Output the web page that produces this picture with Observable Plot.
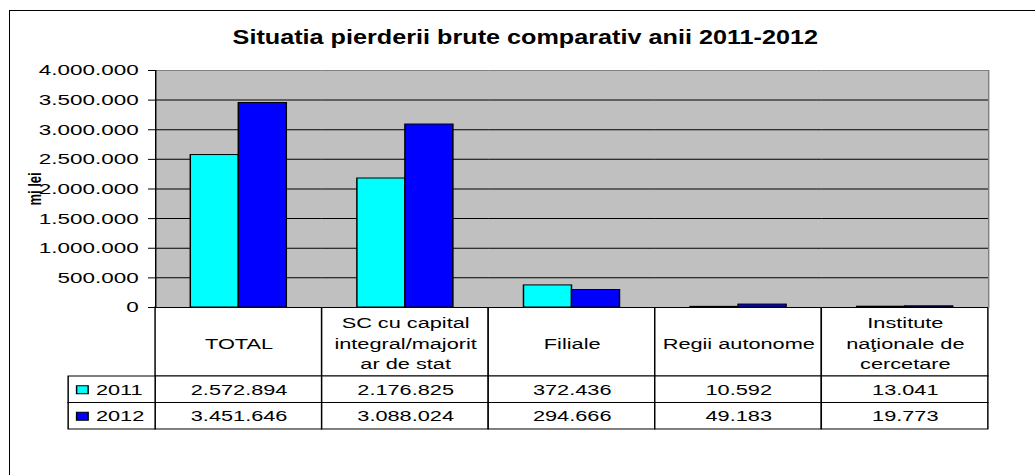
<!DOCTYPE html>
<html><head><meta charset="utf-8">
<script src="https://cdn.jsdelivr.net/npm/d3@7"></script>
<script src="https://cdn.jsdelivr.net/npm/@observablehq/plot@0.6"></script>
<style>
html,body{margin:0;padding:0;background:#fff;}
#root{position:relative;width:1035px;height:475px;overflow:hidden;background:#fff;font-family:"Liberation Sans",Arial,sans-serif;color:#000;}
#border{position:absolute;left:9px;top:10px;width:1100px;height:600px;border:1px solid #000;}
#title{position:absolute;left:0;top:25px;width:1050px;text-align:center;font-weight:bold;font-size:20px;line-height:24px;}
#title span{display:inline-block;transform:scaleX(1.26);}
#stretch{position:absolute;left:0;top:0;width:714px;height:475px;transform:scaleX(1.45);transform-origin:0 0;}
#stretch svg{position:absolute;overflow:visible;max-width:none;}
</style></head><body>
<div id="root"><div id="border"></div><div id="title"><span></span></div><div id="stretch"></div></div>
<script>
// ---- data ----
const titleText = "Situatia pierderii brute comparativ anii 2011-2012";
const yLabel = "mi lei";
const categories = ["TOTAL", "SC cu capital\nintegral/majorit\nar de stat", "Filiale", "Regii autonome", "Institute\nnaţionale de\ncercetare"];
const years = ["2011", "2012"];
const values2011 = [2572894, 2176825, 372436, 10592, 13041];
const values2012 = [3451646, 3088024, 294666, 49183, 19773];
const yTicks = [0, 500000, 1000000, 1500000, 2000000, 2500000, 3000000, 3500000, 4000000];
const colors = ["#00ffff", "#0000ff"];

// ---- build ----
const K = 1.45;
const W = 1035 / K;
const ML = 155 / K, MR = (1035 - 988) / K;
const font = "Liberation Sans, Arial, sans-serif";
const fmt = d3.formatLocale({decimal: ",", thousands: ".", grouping: [3], currency: ["", ""]}).format(",d");
const rows = categories.flatMap((c, i) => [
  {cat: c, year: years[0], value: values2011[i]},
  {cat: c, year: years[1], value: values2012[i]}
]);
document.querySelector("#title span").textContent = titleText;
const style = {background: "transparent", fontFamily: font, overflow: "visible", color: "#000"};

const bars = Plot.plot({
  width: W, height: 308, marginTop: 70, marginBottom: 1, marginLeft: ML, marginRight: MR,
  style,
  fx: {domain: categories, padding: 0, axis: null, round: false},
  x: {domain: years, paddingInner: 0, paddingOuter: 0.735, axis: null, round: false},
  y: {domain: [0, 4000000], axis: null},
  color: {domain: years, range: colors},
  marks: [
    Plot.frame({fill: "#c0c0c0", stroke: null, facet: "super"}),
    Plot.ruleY(yTicks.slice(1, -1), {stroke: "#000"}),
    Plot.ruleY([yTicks[yTicks.length - 1]], {stroke: "#808080"}),
    Plot.barY(rows, {fx: "cat", x: "year", y: "value", fill: "year", stroke: "#000", strokeWidth: 1}),
    Plot.ruleY([0], {stroke: "#000"}),
    Plot.frame({anchor: "left", stroke: "#000", facetAnchor: "left"}),
    Plot.frame({anchor: "right", stroke: "#808080", facetAnchor: "right"}),
    Plot.axisY({ticks: yTicks, tickFormat: fmt, tickSize: 7 / K, tickPadding: 10 / K, fontSize: 15.5, label: null, stroke: "#000", fill: "#000"}),
    Plot.text([yLabel], {text: d => d, frameAnchor: "left", dx: (34 - 155) / K, rotate: -90, textAnchor: "middle", fontSize: 13, fontWeight: "bold", facetAnchor: "left", fill: "#000"})
  ]
});

const header = Plot.plot({
  width: W, height: 71, marginTop: 1, marginBottom: 1, marginLeft: ML, marginRight: MR,
  style,
  x: {domain: categories, padding: 0, axis: null, round: false},
  marks: [
    Plot.cell(categories, {x: d => d, fill: "white", stroke: "#000"}),
    Plot.text(categories, {x: d => d, text: d => d, fontSize: 15, lineHeight: 1.37, fill: "#000"})
  ]
});

const table = Plot.plot({
  width: W, height: 55, marginTop: 1, marginBottom: 1, marginLeft: ML, marginRight: MR,
  style,
  x: {domain: categories, padding: 0, axis: null, round: false},
  y: {domain: years, padding: 0, axis: null, round: false},
  marks: [
    Plot.cell(rows, {x: "cat", y: "year", fill: "white", stroke: "#000"}),
    Plot.text(rows, {x: "cat", y: "year", text: d => fmt(d.value), fontSize: 15, fill: "#000"})
  ]
});

const LX = 68 / K;
const legend = Plot.plot({
  width: ML - LX, height: 55, marginTop: 1, marginBottom: 1, marginLeft: 0, marginRight: 0,
  style,
  y: {domain: years, padding: 0, axis: null, round: false},
  color: {domain: years, range: colors},
  marks: [
    Plot.cell(years, {y: d => d, fill: "white", stroke: "#000"}),
    Plot.dot(years, {y: d => d, frameAnchor: "left", dx: (81.5 - 68) / K, symbol: "square", r: 4.5, fill: d => d, stroke: "#000", strokeWidth: 1}),
    Plot.text(years, {y: d => d, text: d => d, frameAnchor: "left", textAnchor: "start", dx: (95 - 68) / K, fontSize: 15, fill: "#000"})
  ]
});

const host = document.getElementById("stretch");
function place(svg, left, top) {
  svg.style.left = left + "px";
  svg.style.top = top + "px";
  host.appendChild(svg);
}
place(header, 0, 306);
place(table, 0, 375);
place(legend, LX, 375);
place(bars, 0, 0);
</script>
</body></html>
